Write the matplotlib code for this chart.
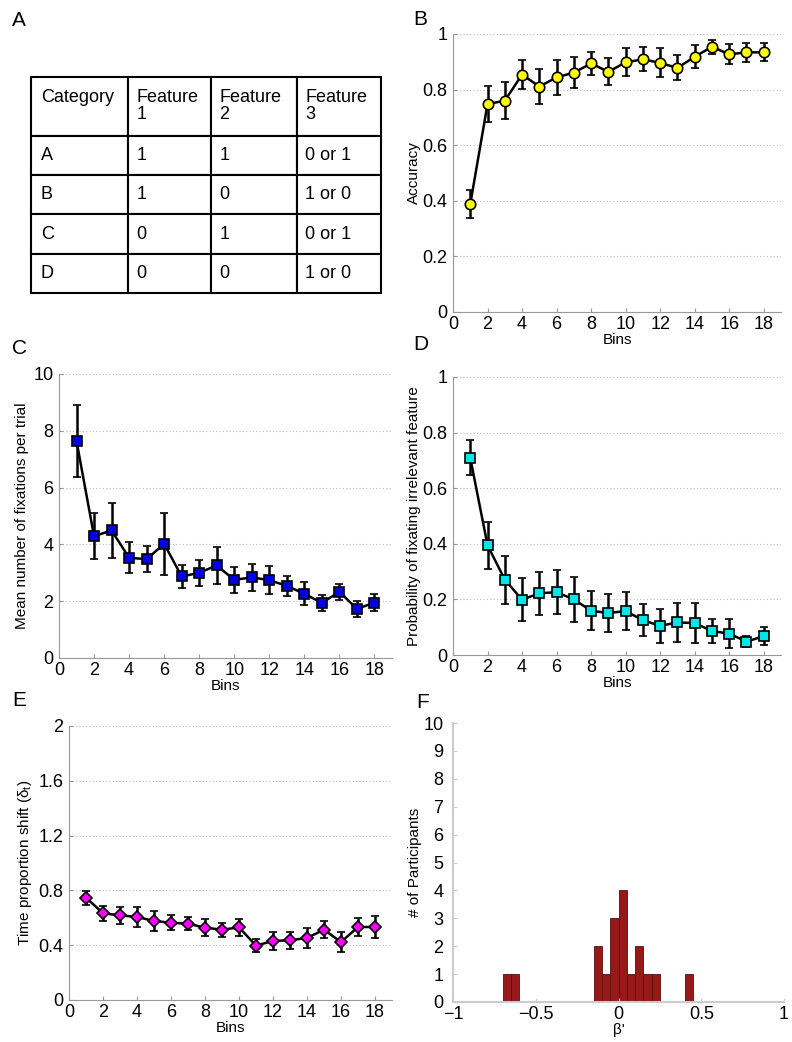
import matplotlib
matplotlib.use("Agg")
import matplotlib.pyplot as plt
import numpy as np

plt.rcParams['font.family'] = ['Liberation Sans', 'DejaVu Sans']
plt.rcParams['mathtext.fontset'] = 'custom'
plt.rcParams['mathtext.rm'] = 'Liberation Sans'
plt.rcParams['mathtext.it'] = 'Liberation Sans'

# ---------------- data ----------------
bins = list(range(1, 19))

acc_mean = [0.388, 0.748, 0.760, 0.854, 0.811, 0.844, 0.861, 0.894, 0.864,
            0.898, 0.909, 0.896, 0.878, 0.918, 0.954, 0.927, 0.934, 0.934]
acc_err = [0.051, 0.065, 0.067, 0.051, 0.064, 0.062, 0.057, 0.040, 0.049,
           0.050, 0.043, 0.052, 0.045, 0.041, 0.026, 0.036, 0.035, 0.032]

fix_mean = [7.64, 4.29, 4.49, 3.53, 3.48, 4.02, 2.87, 3.00, 3.26,
            2.75, 2.84, 2.74, 2.54, 2.26, 1.94, 2.33, 1.73, 1.95]
fix_err = [1.28, 0.80, 0.98, 0.55, 0.46, 1.10, 0.40, 0.46, 0.66,
           0.46, 0.48, 0.50, 0.34, 0.40, 0.27, 0.29, 0.27, 0.29]

irr_mean = [0.709, 0.395, 0.271, 0.199, 0.222, 0.226, 0.200, 0.159, 0.151,
            0.158, 0.125, 0.105, 0.117, 0.115, 0.086, 0.077, 0.048, 0.068]
irr_err = [0.063, 0.085, 0.086, 0.077, 0.077, 0.080, 0.081, 0.070, 0.070,
           0.069, 0.057, 0.061, 0.070, 0.072, 0.043, 0.053, 0.021, 0.031]

shift_mean = [0.747, 0.633, 0.618, 0.606, 0.577, 0.564, 0.557, 0.528, 0.513,
              0.530, 0.397, 0.431, 0.436, 0.453, 0.513, 0.423, 0.533, 0.533]
shift_err = [0.050, 0.055, 0.062, 0.070, 0.073, 0.055, 0.049, 0.063, 0.052,
             0.062, 0.050, 0.068, 0.062, 0.070, 0.064, 0.070, 0.067, 0.083]

hist_left_edges = [-0.70, -0.65, -0.15, -0.10, -0.05, 0.00, 0.05, 0.10, 0.15, 0.20, 0.40]
hist_counts = [1, 1, 2, 1, 3, 4, 1, 2, 1, 1, 1]
hist_width = 0.05

table_header = ["Category\n", "Feature\n1", "Feature\n2", "Feature\n3"]
table_rows = [["A", "1", "1", "0 or 1"],
              ["B", "1", "0", "1 or 0"],
              ["C", "0", "1", "0 or 1"],
              ["D", "0", "0", "1 or 0"]]

# ---------------- figure ----------------
W, H = 792, 1042
fig = plt.figure(figsize=(W / 100, H / 100), dpi=100)


def px_axes(left, top, right, bottom):
    return fig.add_axes([left / W, 1 - bottom / H, (right - left) / W, (bottom - top) / H])


SPINE = '#999999'
TICK_FS = 13
LABEL_FS = 11


def style(ax, grid=True):
    for s in ['top', 'right']:
        ax.spines[s].set_visible(False)
    for s in ['left', 'bottom']:
        ax.spines[s].set_color(SPINE)
        ax.spines[s].set_linewidth(0.8)
    ax.tick_params(direction='in', length=3, color=SPINE, labelsize=TICK_FS)
    ax.tick_params(axis='y', pad=4)
    ax.tick_params(axis='x', pad=3)
    if grid:
        ax.yaxis.grid(True, linestyle=(0, (1, 2)), color='#bbbbbb', linewidth=0.8)
        ax.set_axisbelow(True)


def lineplot(ax, mean, err, marker, color, ms):
    ax.errorbar(bins, mean, yerr=err, color='black', linewidth=1.8,
                elinewidth=1.8, capsize=3, capthick=1.8,
                marker=marker, markersize=ms, markerfacecolor=color,
                markeredgecolor='black', markeredgewidth=1.2, zorder=3)
    ax.set_xlim(0, 19)
    ax.set_xticks([0, 2, 4, 6, 8, 10, 12, 14, 16, 18])
    ax.set_xlabel('Bins', fontsize=LABEL_FS, labelpad=0)


# ---- A: table ----
axA = px_axes(31, 77, 381, 293)
axA.axis('off')
tbl = axA.table(cellText=table_rows, colLabels=table_header, cellLoc='left',
                colLoc='left', loc='center', bbox=[0, 0, 1, 1],
                colWidths=[97, 83, 86, 84])
tbl.auto_set_font_size(False)
tbl.set_fontsize(13)
for (r, c), cell in tbl.get_celld().items():
    cell.set_linewidth(1.5)
    cell.set_edgecolor('black')
    cell.PAD = 0.1
    cell.get_text().set_linespacing(1.0)
    if r == 0:
        cell.set_height(59 / 216)
    else:
        cell.set_height((216 - 59) / 4 / 216)

# ---- B: accuracy ----
axB = px_axes(453, 34, 781, 312)
style(axB)
lineplot(axB, acc_mean, acc_err, 'o', '#ffff00', 7.5)
axB.set_ylim(0, 1)
axB.set_yticks([0, 0.2, 0.4, 0.6, 0.8, 1])
axB.set_yticklabels(['0', '0.2', '0.4', '0.6', '0.8', '1'])
axB.set_ylabel('Accuracy', fontsize=LABEL_FS, labelpad=1)

# ---- C: fixations ----
axC = px_axes(59, 374, 392, 658)
style(axC)
lineplot(axC, fix_mean, fix_err, 's', '#0000e0', 6.5)
axC.set_ylim(0, 10)
axC.set_yticks([0, 2, 4, 6, 8, 10])
axC.set_ylabel('Mean number of fixations per trial', fontsize=LABEL_FS, labelpad=3)

# ---- D: irrelevant ----
axD = px_axes(453, 377, 781, 655)
style(axD)
lineplot(axD, irr_mean, irr_err, 's', '#00e5e5', 6.5)
axD.set_ylim(0, 1)
axD.set_yticks([0, 0.2, 0.4, 0.6, 0.8, 1])
axD.set_yticklabels(['0', '0.2', '0.4', '0.6', '0.8', '1'])
axD.set_ylabel('Probability of fixating irrelevant feature', fontsize=LABEL_FS, labelpad=1)

# ---- E: time proportion shift ----
axE = px_axes(69, 726, 392, 1000)
style(axE)
lineplot(axE, shift_mean, shift_err, 'D', '#ff00ff', 6)
axE.set_ylim(0, 2)
axE.set_yticks([0, 0.4, 0.8, 1.2, 1.6, 2])
axE.set_yticklabels(['0', '0.4', '0.8', '1.2', '1.6', '2'])
axE.set_ylabel('Time proportion shift (\u03b4$_t$)', fontsize=LABEL_FS, labelpad=3)

# ---- F: histogram ----
axF = px_axes(453, 723, 784, 1002)
for s in ['top', 'right']:
    axF.spines[s].set_visible(False)
for s in ['left', 'bottom']:
    axF.spines[s].set_color('#cccccc')
    axF.spines[s].set_linewidth(1.5)
axF.tick_params(direction='in', length=3, color='#cccccc', labelsize=TICK_FS)
axF.tick_params(axis='y', pad=7)
axF.tick_params(axis='x', pad=3)
axF.bar(hist_left_edges, hist_counts, width=hist_width, align='edge',
        color='#961818', edgecolor='#5a0c0c', linewidth=0.6)
axF.set_xlim(-1, 1)
axF.set_ylim(0, 10)
axF.set_xticks([-1, -0.5, 0, 0.5, 1])
axF.set_xticklabels(['\u22121', '\u22120.5', '0', '0.5', '1'])
axF.set_yticks(range(0, 11))
axF.set_ylabel('# of Participants', fontsize=LABEL_FS, labelpad=1)
axF.set_xlabel("\u03b2'", fontsize=LABEL_FS, labelpad=0)

# ---- panel letters ----
for lab, x, y in [('A', 12, 26), ('B', 413, 25), ('C', 12, 354), ('D', 413, 350),
                  ('E', 12, 706), ('F', 416, 708)]:
    fig.text(x / W, 1 - y / H, lab, fontsize=15, ha='left', va='baseline')

fig.savefig('out.png', dpi=100)
